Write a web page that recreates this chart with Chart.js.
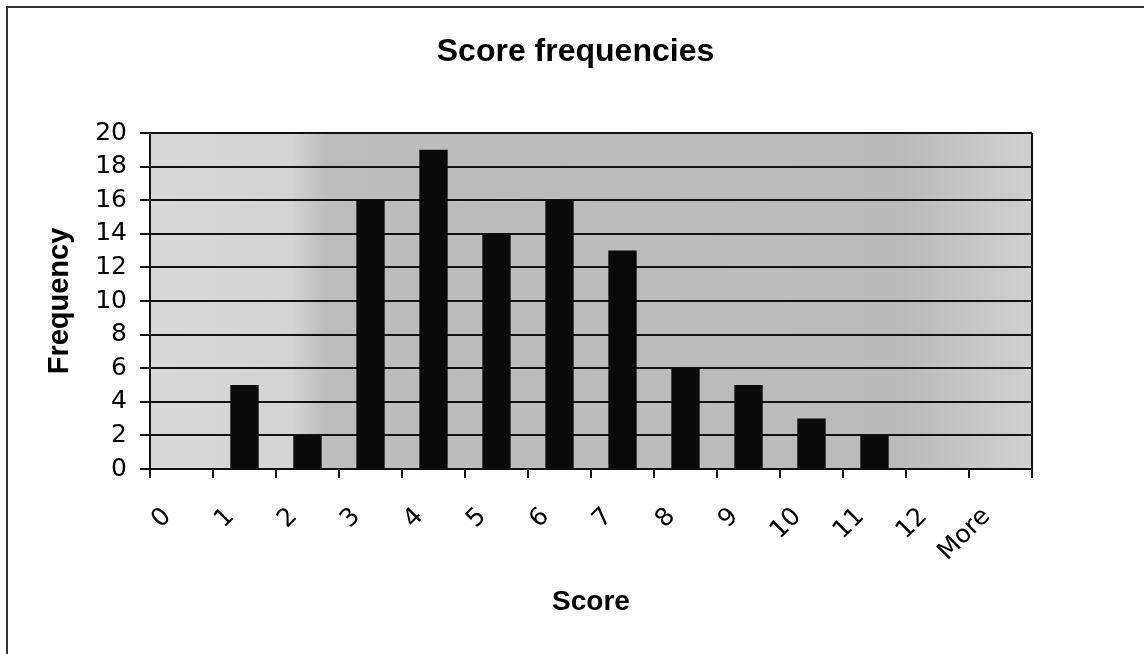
<!DOCTYPE html>
<html>
<head>
<meta charset="utf-8">
<script src="https://cdn.jsdelivr.net/npm/chart.js@4.4.1/dist/chart.umd.min.js"></script>
<style>
body{margin:0;background:#fff;}
#wrap{position:relative;width:1144px;height:654px;}
#frame{position:absolute;left:6px;top:6px;right:0;bottom:0;border-left:2px solid #333;border-top:2px solid #333;pointer-events:none;}
</style>
</head>
<body>
<div id="wrap">
<canvas id="chart" width="1144" height="654"></canvas>
<div id="frame"></div>
</div>
<script>
const scores = ["0","1","2","3","4","5","6","7","8","9","10","11","12","More"];
const frequency = [0,5,2,16,19,14,16,13,6,5,3,2,0,0];
const yTicks = [0,2,4,6,8,10,12,14,16,18,20];

// grey plot background plus the right-hand border
const plotBackground = {
  id: "plotBackground",
  beforeDraw(chart){
    const {ctx, chartArea: a} = chart;
    const g = ctx.createLinearGradient(a.left, 0, a.right, 0);
    g.addColorStop(0, "#d8d8d8");
    g.addColorStop(0.16, "#d4d4d4");
    g.addColorStop(0.2, "#bdbdbd");
    g.addColorStop(0.85, "#bababa");
    g.addColorStop(1, "#d0d0d0");
    ctx.save();
    ctx.fillStyle = g;
    ctx.fillRect(a.left, a.top, a.right - a.left, a.bottom - a.top);
    ctx.restore();
  },
  afterDraw(chart){
    const {ctx, chartArea: a} = chart;
    ctx.save();
    ctx.strokeStyle = "#111";
    ctx.lineWidth = 2;
    ctx.beginPath();
    ctx.moveTo(a.right, a.top);
    ctx.lineTo(a.right, a.bottom);
    ctx.stroke();
    ctx.restore();
  }
};

new Chart(document.getElementById("chart"), {
  type: "bar",
  data: {
    labels: scores,
    datasets: [{
      label: "Frequency",
      data: frequency,
      backgroundColor: "#0a0a0a",
      borderWidth: 0,
      categoryPercentage: 1,
      barPercentage: 0.45
    }]
  },
  plugins: [plotBackground],
  options: {
    responsive: false,
    animation: false,
    layout: {padding: {left: 7, top: 6, right: 0, bottom: 0}},
    plugins: {
      legend: {display: false},
      tooltip: {enabled: false},
      title: {
        display: true,
        text: "Score frequencies",
        color: "#000",
        font: {family: "Liberation Sans", size: 32, weight: "bold"},
        padding: {top: 27, bottom: 61.6}
      }
    },
    scales: {
      x: {
        grid: {display: true, offset: true, drawOnChartArea: false, drawTicks: true, tickLength: 9, color: "#111", lineWidth: 2},
        border: {display: true, color: "#111", width: 2},
        ticks: {
          color: "#000",
          font: {family: "DejaVu Sans", size: 25},
          maxRotation: 45, minRotation: 45,
          padding: 24, labelOffset: -14,
          autoSkip: false
        },
        title: {
          display: true, text: "Score", color: "#000",
          font: {family: "Liberation Sans", size: 28, weight: "bold"},
          padding: {top: 0, bottom: 35}
        },
        afterFit(s){ s.height = 185; }
      },
      y: {
        min: 0, max: 20,
        afterBuildTicks(s){ s.ticks = yTicks.map(v => ({value: v})); },
        grid: {color: "#111", lineWidth: 2, drawTicks: true, tickLength: 10},
        border: {display: true, color: "#111", width: 2},
        ticks: {color: "#000", font: {family: "DejaVu Sans", size: 25}, padding: 13},
        title: {
          display: true, text: "Frequency", color: "#000",
          font: {family: "Liberation Sans", size: 29, weight: "bold"},
          padding: {top: 36, bottom: 0}
        },
        afterFit(s){ s.width = 143; }
      },
      spacer: {
        type: "linear", position: "right",
        grid: {display: false, drawOnChartArea: false},
        border: {display: false},
        ticks: {display: false},
        afterFit(s){ s.width = 112; }
      }
    }
  }
});
</script>
</body>
</html>
